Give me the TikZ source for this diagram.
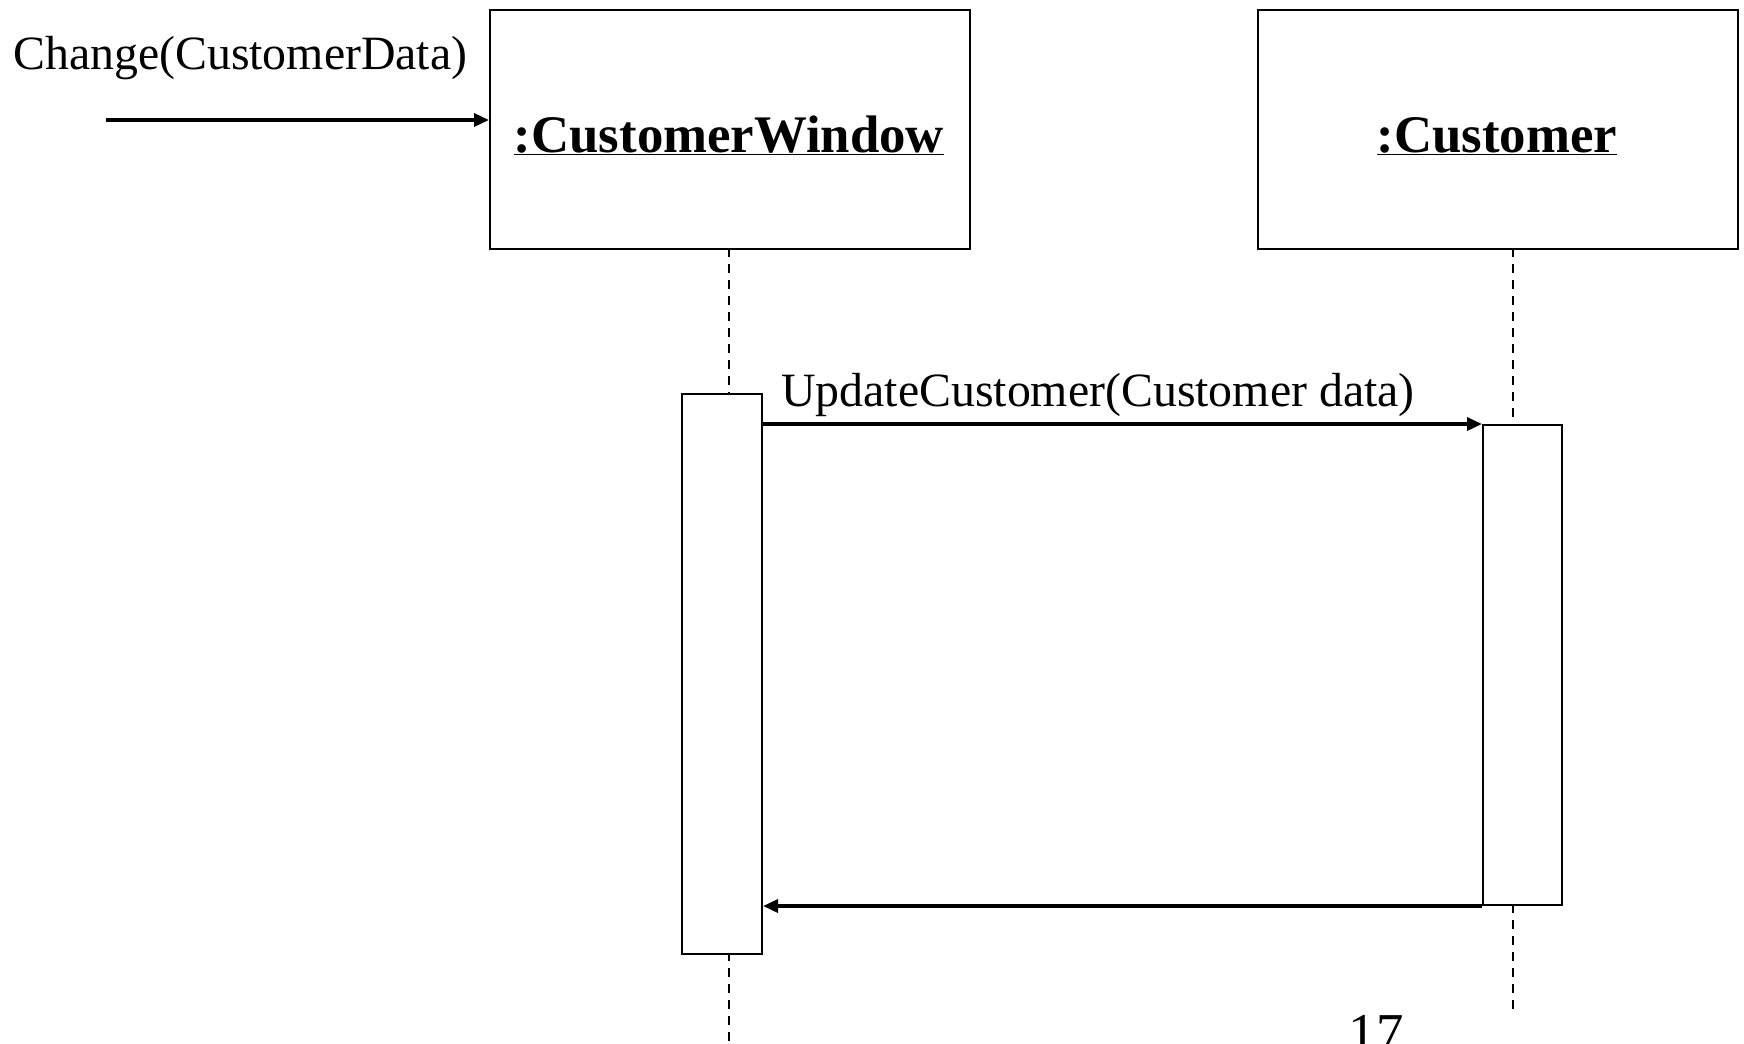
\documentclass[tikz,border=0pt]{standalone}
\usepackage{fontspec}
\setmainfont{Liberation Serif}
\usetikzlibrary{arrows.meta}
\begin{document}
\begin{tikzpicture}[x=1bp,y=-1bp,
  objbox/.style={draw,line width=2.2bp,minimum width=480bp,minimum height=239bp,inner sep=0pt,anchor=north west},
  actbox/.style={draw,line width=2bp,fill=white,inner sep=0pt,anchor=north west,minimum width=80bp},
  lifeline/.style={line width=1.5bp,dash pattern=on 9bp off 7bp},
  msg/.style={line width=3.4bp,-{Triangle[length=15bp,width=13bp]}},
  lbl/.style={font=\fontsize{48}{52}\selectfont,inner sep=0pt},
  objlbl/.style={font=\fontsize{53}{58}\selectfont\bfseries,inner sep=0pt,anchor=base}]
\useasboundingbox (0,0) rectangle (1744,1043);
\begin{scope}
\clip (0,0) rectangle (1744,1043);
% object boxes
\node[objbox] (cw) at (489,9) {};
\node[objbox] (cust) at (1257,9) {};
\node[objlbl] (cwlbl) at (729,152) {\underline{:CustomerWindow}};
\node[objlbl] (custlbl) at (1497,152) {\underline{:Customer}};
% lifelines
\coordinate (cwtop) at (729,248);
\coordinate (cwend) at (729,1043);
\coordinate (ctop) at (1513,248);
\coordinate (cend) at (1513,1016);
\draw[lifeline] (cwtop) -- (cwend);
\draw[lifeline] (ctop) -- (cend);
% activations
\node[actbox,minimum height=560bp] (actcw) at (681,393) {};
\node[actbox,minimum height=480bp,minimum width=79bp] (actc) at (1482,424) {};
% incoming message
\coordinate (start) at (106,120);
\node[lbl,anchor=base west] (chg) at (13,69) {Change(CustomerData)};
\draw[msg] (start) -- (cw.west |- start);
% update call
\draw[msg] (actcw.east |- actc.north west) -- (actc.north west);
\node[lbl,anchor=base west] (upd) at (781,406) {UpdateCustomer(Customer data)};
% return
\draw[msg] (actc.south west) -- (actcw.east |- actc.south west);
% page number (cut off at the bottom edge, as in the original)
\node[font=\fontsize{55}{60}\selectfont,inner sep=0pt,anchor=base] (pg) at (1376,1051) {17};
\end{scope}
\end{tikzpicture}
\end{document}
